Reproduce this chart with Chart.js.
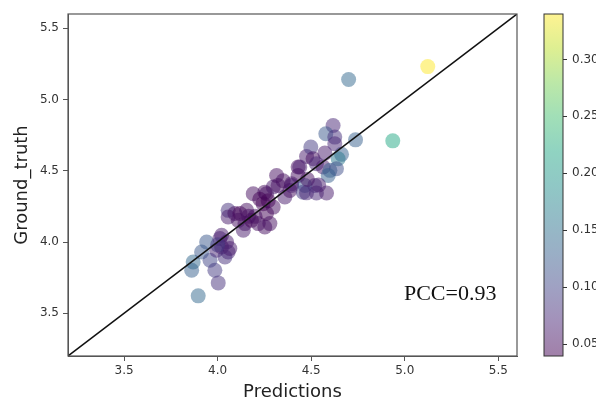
<!DOCTYPE html>
<html>
<head>
<meta charset="utf-8">
<script src="https://cdn.jsdelivr.net/npm/chart.js@4.4.1/dist/chart.umd.min.js"></script>
<style>
  html, body { margin: 0; padding: 0; background: #fff; }
  canvas { display: block; }
</style>
</head>
<body>
<canvas id="scatterChart" width="596" height="398"></canvas>
<script>
// values
const predictions = [
    3.896, 3.861, 3.869, 3.914, 3.941, 3.959, 3.985, 4.003, 3.994, 4.021,
    4.012, 4.048, 4.039, 4.056, 4.021, 4.065, 4.000,
    4.056, 4.056, 4.092, 4.119, 4.110, 4.155, 4.146, 4.137, 4.181, 4.190,
    4.217, 4.243, 4.261, 4.252, 4.279, 4.297, 4.261, 4.297, 4.323, 4.359,
    4.315, 4.252, 4.225, 4.270, 4.200, 4.165,
    4.386, 4.395, 4.430, 4.439, 4.430, 4.395, 4.466, 4.519, 4.457, 4.528,
    4.582, 4.475, 4.475, 4.498, 4.510, 4.573, 4.528, 4.564, 4.662, 4.644,
    4.600, 4.635, 4.591, 4.617, 4.578, 4.626, 4.626, 4.737, 4.700, 4.936,
    5.123, 4.350, 4.480, 4.540
];
const groundTruth = [
    3.622, 3.802, 3.860, 3.930, 4.000, 3.872, 3.802, 3.713, 3.942, 3.965,
    4.024, 4.000, 3.895, 3.930, 4.047, 3.954, 3.980,
    4.222, 4.175, 4.200, 4.200, 4.152, 4.222, 4.129, 4.082, 4.152, 4.339,
    4.129, 4.269, 4.200, 4.105, 4.129, 4.245, 4.339, 4.386, 4.397, 4.316,
    4.467, 4.350, 4.300, 4.290, 4.180, 4.180,
    4.362, 4.409, 4.526, 4.526, 4.467, 4.397, 4.397, 4.397, 4.350, 4.344,
    4.344, 4.345, 4.600, 4.666, 4.584, 4.624, 4.549, 4.526, 4.615, 4.584,
    4.503, 4.514, 4.467, 4.818, 4.760, 4.736, 4.689, 4.717, 5.140, 4.710,
    5.231, 4.430, 4.440, 4.400
];
const errorValues = [
    0.14, 0.13, 0.14, 0.12, 0.12, 0.10, 0.09, 0.08, 0.07, 0.06,
    0.07, 0.06, 0.08, 0.07, 0.06, 0.06, 0.09,
    0.08, 0.06, 0.05, 0.04, 0.05, 0.05, 0.05, 0.06, 0.04, 0.05,
    0.05, 0.04, 0.04, 0.05, 0.05, 0.05, 0.05, 0.06, 0.05, 0.06,
    0.05, 0.05, 0.04, 0.04, 0.05, 0.05,
    0.05, 0.06, 0.05, 0.06, 0.05, 0.06, 0.12, 0.08, 0.09, 0.07,
    0.06, 0.07, 0.06, 0.09, 0.05, 0.06, 0.07, 0.06, 0.13, 0.16,
    0.13, 0.11, 0.13, 0.07, 0.12, 0.08, 0.07, 0.13, 0.14, 0.22,
    0.34, 0.05, 0.05, 0.06
];
const axisTicks = [3.5, 4.0, 4.5, 5.0, 5.5];
const colorbarTicks = [0.05, 0.10, 0.15, 0.20, 0.25, 0.30];
const axisRange = [3.2, 5.6];
const colorRange = [0.039, 0.34];
const pccLabel = 'PCC=0.93';

// viridis colormap stops
const viridis = [
    [68, 1, 84], [72, 36, 117], [65, 68, 135], [53, 95, 141], [42, 120, 142],
    [33, 145, 140], [34, 168, 132], [68, 191, 112], [122, 209, 81], [189, 223, 38],
    [253, 231, 37]
];

function viridisColor(t, alpha) {
    t = Math.min(1, Math.max(0, t)) * (viridis.length - 1);
    const i = Math.min(viridis.length - 2, Math.floor(t));
    const f = t - i;
    const c = viridis[i].map((v, k) => Math.round(v + (viridis[i + 1][k] - v) * f));
    return `rgba(${c[0]}, ${c[1]}, ${c[2]}, ${alpha})`;
}

function valueColor(v) {
    return viridisColor((v - colorRange[0]) / (colorRange[1] - colorRange[0]), 0.5);
}

const points = predictions.map((x, i) => ({ x: x, y: groundTruth[i] }));
const pointColors = errorValues.map(valueColor);

const tickFont = { family: 'DejaVu Sans', size: 12 };
const titleFont = { family: 'DejaVu Sans', size: 18, lineHeight: 1.2 };

// frame, colorbar and PCC label
const extrasPlugin = {
    id: 'extras',
    afterDraw(chart) {
        const ctx = chart.ctx;
        const area = chart.chartArea;
        const cb = chart.scales.cb;
        ctx.save();
        ctx.strokeStyle = '#555';
        ctx.lineWidth = 1.2;
        ctx.strokeRect(area.left, area.top, area.right - area.left, area.bottom - area.top);

        const x0 = area.right + 27;
        const w = 19;
        const yTop = cb.getPixelForValue(colorRange[1]);
        const yBot = cb.getPixelForValue(colorRange[0]);
        const grad = ctx.createLinearGradient(0, yBot, 0, yTop);
        viridis.forEach((c, i) => {
            grad.addColorStop(i / (viridis.length - 1), viridisColor(i / (viridis.length - 1), 0.5));
        });
        ctx.fillStyle = grad;
        ctx.fillRect(x0, yTop, w, yBot - yTop);
        ctx.strokeStyle = '#333';
        ctx.lineWidth = 1;
        ctx.strokeRect(x0, yTop, w, yBot - yTop);
        colorbarTicks.forEach(v => {
            const y = Math.round(cb.getPixelForValue(v)) + 0.5;
            ctx.beginPath();
            ctx.moveTo(x0 + w, y);
            ctx.lineTo(x0 + w + 4, y);
            ctx.stroke();
        });

        ctx.font = '22px "Liberation Serif"';
        ctx.fillStyle = '#111';
        ctx.textAlign = 'right';
        ctx.textBaseline = 'alphabetic';
        ctx.fillText(pccLabel, chart.scales.x.getPixelForValue(5.49), chart.scales.y.getPixelForValue(3.59));
        ctx.restore();
    }
};

const ctx = document.getElementById('scatterChart').getContext('2d');
new Chart(ctx, {
    type: 'scatter',
    data: {
        datasets: [
            {
                label: 'y = x',
                data: axisRange.map(v => ({ x: v, y: v })),
                showLine: true,
                borderColor: '#111',
                borderWidth: 1.5,
                pointRadius: 0,
                order: 0
            },
            {
                label: 'samples',
                data: points,
                backgroundColor: pointColors,
                borderWidth: 0,
                pointRadius: 7.5,
                pointHoverRadius: 7.5,
                order: 1
            }
        ]
    },
    options: {
        responsive: false,
        animation: false,
        devicePixelRatio: 1,
        layout: { padding: { top: 14, left: 0, right: 0, bottom: 0 } },
        plugins: {
            legend: { display: false },
            tooltip: { enabled: false }
        },
        scales: {
            x: {
                type: 'linear',
                min: axisRange[0],
                max: axisRange[1],
                afterBuildTicks: scale => { scale.ticks = axisTicks.map(v => ({ value: v })); },
                afterFit: scale => { scale.height = 42; scale.paddingLeft = 0; scale.paddingRight = 0; },
                ticks: { font: tickFont, color: '#333', padding: 3, callback: v => v.toFixed(1) },
                grid: { drawOnChartArea: false, tickLength: 5, color: '#555' },
                border: { color: '#555' },
                title: { display: true, text: 'Predictions', font: titleFont, color: '#222', padding: { top: 0, bottom: -5 } }
            },
            y: {
                type: 'linear',
                min: axisRange[0],
                max: axisRange[1],
                afterBuildTicks: scale => { scale.ticks = axisTicks.map(v => ({ value: v })); },
                afterFit: scale => { scale.width = 68; scale.paddingTop = 0; scale.paddingBottom = 0; },
                ticks: { font: tickFont, color: '#333', padding: 4, callback: v => v.toFixed(1) },
                grid: { drawOnChartArea: false, tickLength: 5, color: '#555' },
                border: { color: '#555' },
                title: { display: true, text: 'Ground_truth', font: titleFont, color: '#222', padding: { top: 12, bottom: 0 } }
            },
            cb: {
                type: 'linear',
                position: 'right',
                min: colorRange[0],
                max: colorRange[1],
                afterBuildTicks: scale => { scale.ticks = colorbarTicks.map(v => ({ value: v })); },
                afterFit: scale => { scale.width = 79; scale.paddingTop = 0; scale.paddingBottom = 0; },
                ticks: { font: tickFont, color: '#333', padding: 55, callback: v => v.toFixed(2) },
                grid: { display: false, drawTicks: false },
                border: { display: false }
            }
        }
    },
    plugins: [extrasPlugin]
});
</script>
</body>
</html>
